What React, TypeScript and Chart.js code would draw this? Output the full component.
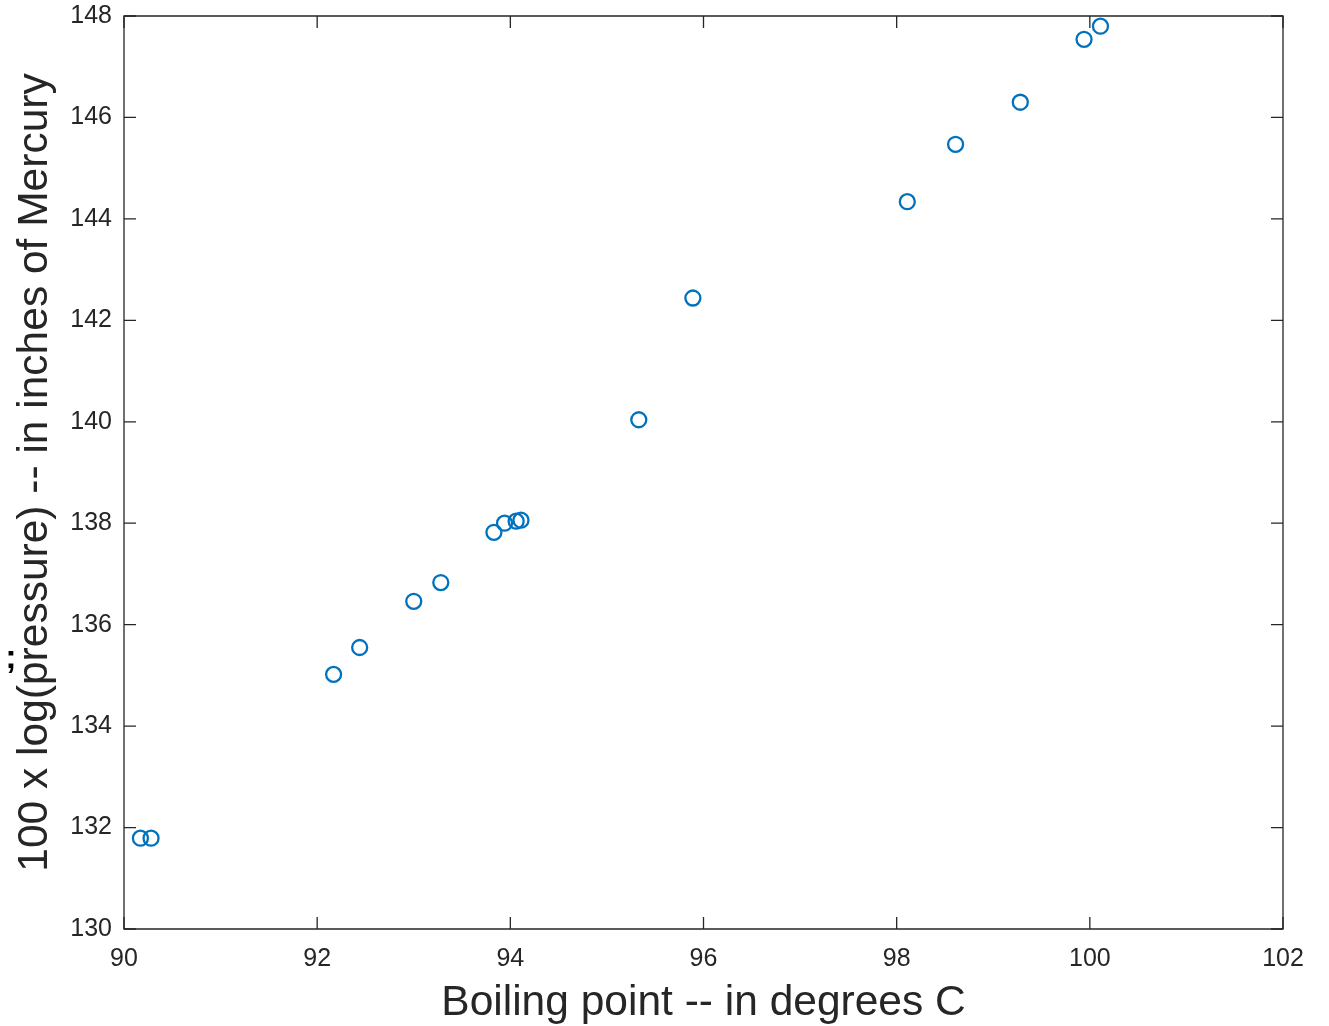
import React, { useEffect, useRef } from "react";
import { Chart, registerables } from "chart.js";

Chart.register(...registerables);

// Forbes data: boiling point (deg C) and 100 x log10(pressure in inHg)
const boilingPoint = [90.28, 90.17, 92.17, 92.44, 93.0, 93.28, 93.83, 93.94, 94.11, 94.06, 95.33, 95.89, 98.61, 98.11, 99.28, 99.94, 100.11];
const logPressure = [131.79, 131.79, 135.02, 135.55, 136.46, 136.83, 137.82, 138.0, 138.06, 138.04, 140.04, 142.44, 145.47, 144.34, 146.3, 147.54, 147.8];

const xTicks = [90, 92, 94, 96, 98, 100, 102];
const yTicks = [130, 132, 134, 136, 138, 140, 142, 144, 146, 148];

const xTitle = "Boiling point -- in degrees C";
const yTitle = "100 x log(pressure) -- in inches of Mercury";
const strayMark = ";";

const FONT = "'Liberation Sans', Arial, Helvetica, sans-serif";
const AXIS_COLOR = "#262626";
const POINT_COLOR = "#0072BD";

const boxPlugin = {
  id: "matlabBox",
  afterDraw(chart: any) {
    const { ctx, chartArea } = chart;
    const { left, right, top, bottom } = chartArea;
    const xs = chart.scales.x;
    const ys = chart.scales.y;
    const tl = 12;
    ctx.save();
    ctx.strokeStyle = AXIS_COLOR;
    ctx.lineWidth = 1.3;
    ctx.beginPath();
    ctx.rect(left, top, right - left, bottom - top);
    ctx.stroke();
    ctx.beginPath();
    xTicks.forEach((v) => {
      const px = xs.getPixelForValue(v);
      ctx.moveTo(px, bottom);
      ctx.lineTo(px, bottom - tl);
      ctx.moveTo(px, top);
      ctx.lineTo(px, top + tl);
    });
    yTicks.forEach((v) => {
      const py = ys.getPixelForValue(v);
      ctx.moveTo(left, py);
      ctx.lineTo(left + tl, py);
      ctx.moveTo(right, py);
      ctx.lineTo(right - tl, py);
    });
    ctx.stroke();
    ctx.fillStyle = "#000";
    ctx.font = `bold 34px ${FONT}`;
    ctx.textAlign = "center";
    ctx.textBaseline = "alphabetic";
    ctx.fillText(strayMark, 11, 668);
    ctx.restore();
  },
};

export default function App() {
  const ref = useRef<HTMLCanvasElement | null>(null);
  useEffect(() => {
    document.body.style.margin = "0";
    const canvas = ref.current;
    if (!canvas) return;
    const chart = new Chart(canvas, {
      type: "scatter",
      data: {
        datasets: [
          {
            data: boilingPoint.map((x, i) => ({ x, y: logPressure[i] })),
            pointRadius: 7.5,
            pointHoverRadius: 7.5,
            pointBorderWidth: 2.3,
            pointBorderColor: POINT_COLOR,
            pointBackgroundColor: "rgba(0,0,0,0)",
            showLine: false,
          },
        ],
      },
      options: {
        responsive: false,
        animation: false,
        events: [],
        layout: { padding: { top: 16, right: 46, left: 0, bottom: 0 } },
        plugins: { legend: { display: false }, tooltip: { enabled: false } },
        scales: {
          x: {
            type: "linear",
            min: 90,
            max: 102,
            afterFit: (s: any) => {
              s.height = 97;
              s.paddingLeft = 0;
              s.paddingRight = 0;
            },
            afterBuildTicks: (s: any) => {
              s.ticks = xTicks.map((v) => ({ value: v }));
            },
            grid: { display: false, drawTicks: false },
            border: { display: false },
            ticks: {
              padding: 15,
              color: AXIS_COLOR,
              font: { family: FONT, size: 25 },
              maxRotation: 0,
            },
            title: {
              display: true,
              text: xTitle,
              color: AXIS_COLOR,
              font: { family: FONT, size: 42.5 },
              padding: { top: 0, bottom: -3 },
            },
          },
          y: {
            type: "linear",
            min: 130,
            max: 148,
            afterFit: (s: any) => {
              s.width = 124;
              s.paddingTop = 0;
              s.paddingBottom = 0;
            },
            afterBuildTicks: (s: any) => {
              s.ticks = yTicks.map((v) => ({ value: v }));
            },
            grid: { display: false, drawTicks: false },
            border: { display: false },
            ticks: {
              padding: 12,
              color: AXIS_COLOR,
              font: { family: FONT, size: 25 },
            },
            title: {
              display: true,
              text: yTitle,
              color: AXIS_COLOR,
              font: { family: FONT, size: 42.5 },
              padding: { top: 10, bottom: 0 },
            },
          },
        },
      },
      plugins: [boxPlugin],
    } as any);
    return () => chart.destroy();
  }, []);
  return (
    <canvas
      ref={ref}
      width={1329}
      height={1026}
      style={{ display: "block", width: 1329, height: 1026 }}
    />
  );
}
